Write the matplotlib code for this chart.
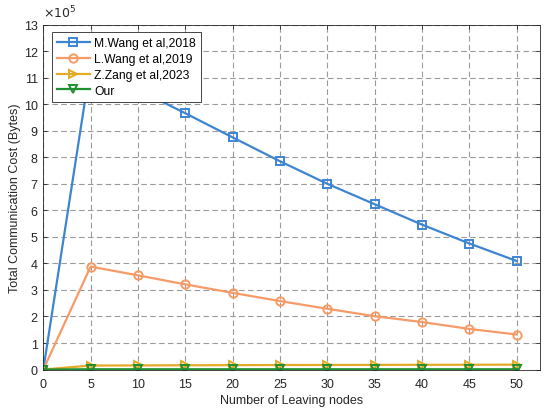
import matplotlib
matplotlib.use("Agg")
import matplotlib.pyplot as plt
from matplotlib.ticker import FuncFormatter, MultipleLocator

plt.rcParams['font.family'] = ['Liberation Sans', 'DejaVu Sans']

nodes = [0, 5, 10, 15, 20, 25, 30, 35, 40, 45, 50]
# values in units of 1e5 bytes
mwang = [0, 11.5, 10.55, 9.66, 8.75, 7.85, 7.0, 6.23, 5.46, 4.75, 4.09]
lwang = [0, 3.88, 3.55, 3.21, 2.89, 2.58, 2.29, 2.01, 1.79, 1.53, 1.32]
zzang = [0, 0.15, 0.155, 0.16, 0.165, 0.17, 0.172, 0.175, 0.178, 0.18, 0.185]
our = [0, 0.01, 0.01, 0.01, 0.01, 0.01, 0.01, 0.01, 0.01, 0.01, 0.01]

labels = ['M.Wang et al,2018', 'L.Wang et al,2019', 'Z.Zang et al,2023', 'Our']
colors = ['#3D85D3', '#F59B68', '#E3AA25', '#1F8F2F']
markers = ['s', 'o', '>', 'v']
series = [mwang, lwang, zzang, our]
SCALE = 1e5

fig = plt.figure(figsize=(5.5, 4.14), dpi=100)
ax = fig.add_axes([0.0787, 0.105, 0.904, 0.833])

for vals, lab, c, m in zip(series, labels, colors, markers):
    ax.plot(nodes, [v * SCALE for v in vals], color=c, marker=m, markersize=6,
            markerfacecolor='none', markeredgewidth=1.4, linewidth=1.6, label=lab)

ax.set_xlim(0, 52.5)
ax.set_ylim(0, 13 * SCALE)
ax.xaxis.set_major_locator(MultipleLocator(5))
ax.yaxis.set_major_locator(MultipleLocator(SCALE))
ax.yaxis.set_major_formatter(FuncFormatter(lambda v, p: f'{v / SCALE:g}'))
ax.text(0.0, 1.012, r'$\times10^{5}$', transform=ax.transAxes, fontsize=9,
        color='#262626', ha='left', va='bottom')

ax.grid(True, linestyle=(0, (5, 3)), color='#9a9a9a', linewidth=0.8)
ax.tick_params(direction='in', labelsize=9, colors='#262626', top=True, right=True,
               length=3, width=0.6, pad=4)
ax.tick_params(axis='x', pad=6)
for s in ax.spines.values():
    s.set_color('#262626')
    s.set_linewidth(0.6)

ax.set_xlabel('Number of Leaving nodes', fontsize=9, color='#262626', labelpad=3)
ax.set_ylabel('Total Communication Cost (Bytes)', fontsize=9, color='#262626', labelpad=2)

leg = ax.legend(loc='upper left', bbox_to_anchor=(0.012, 0.985), fontsize=8.7,
                fancybox=False, framealpha=1, edgecolor='#262626',
                handlelength=2.8, borderpad=0.4, labelspacing=0.32, handletextpad=0.3,
                borderaxespad=0.2)
leg.get_frame().set_linewidth(0.6)

fig.savefig('out.png', dpi=100)
